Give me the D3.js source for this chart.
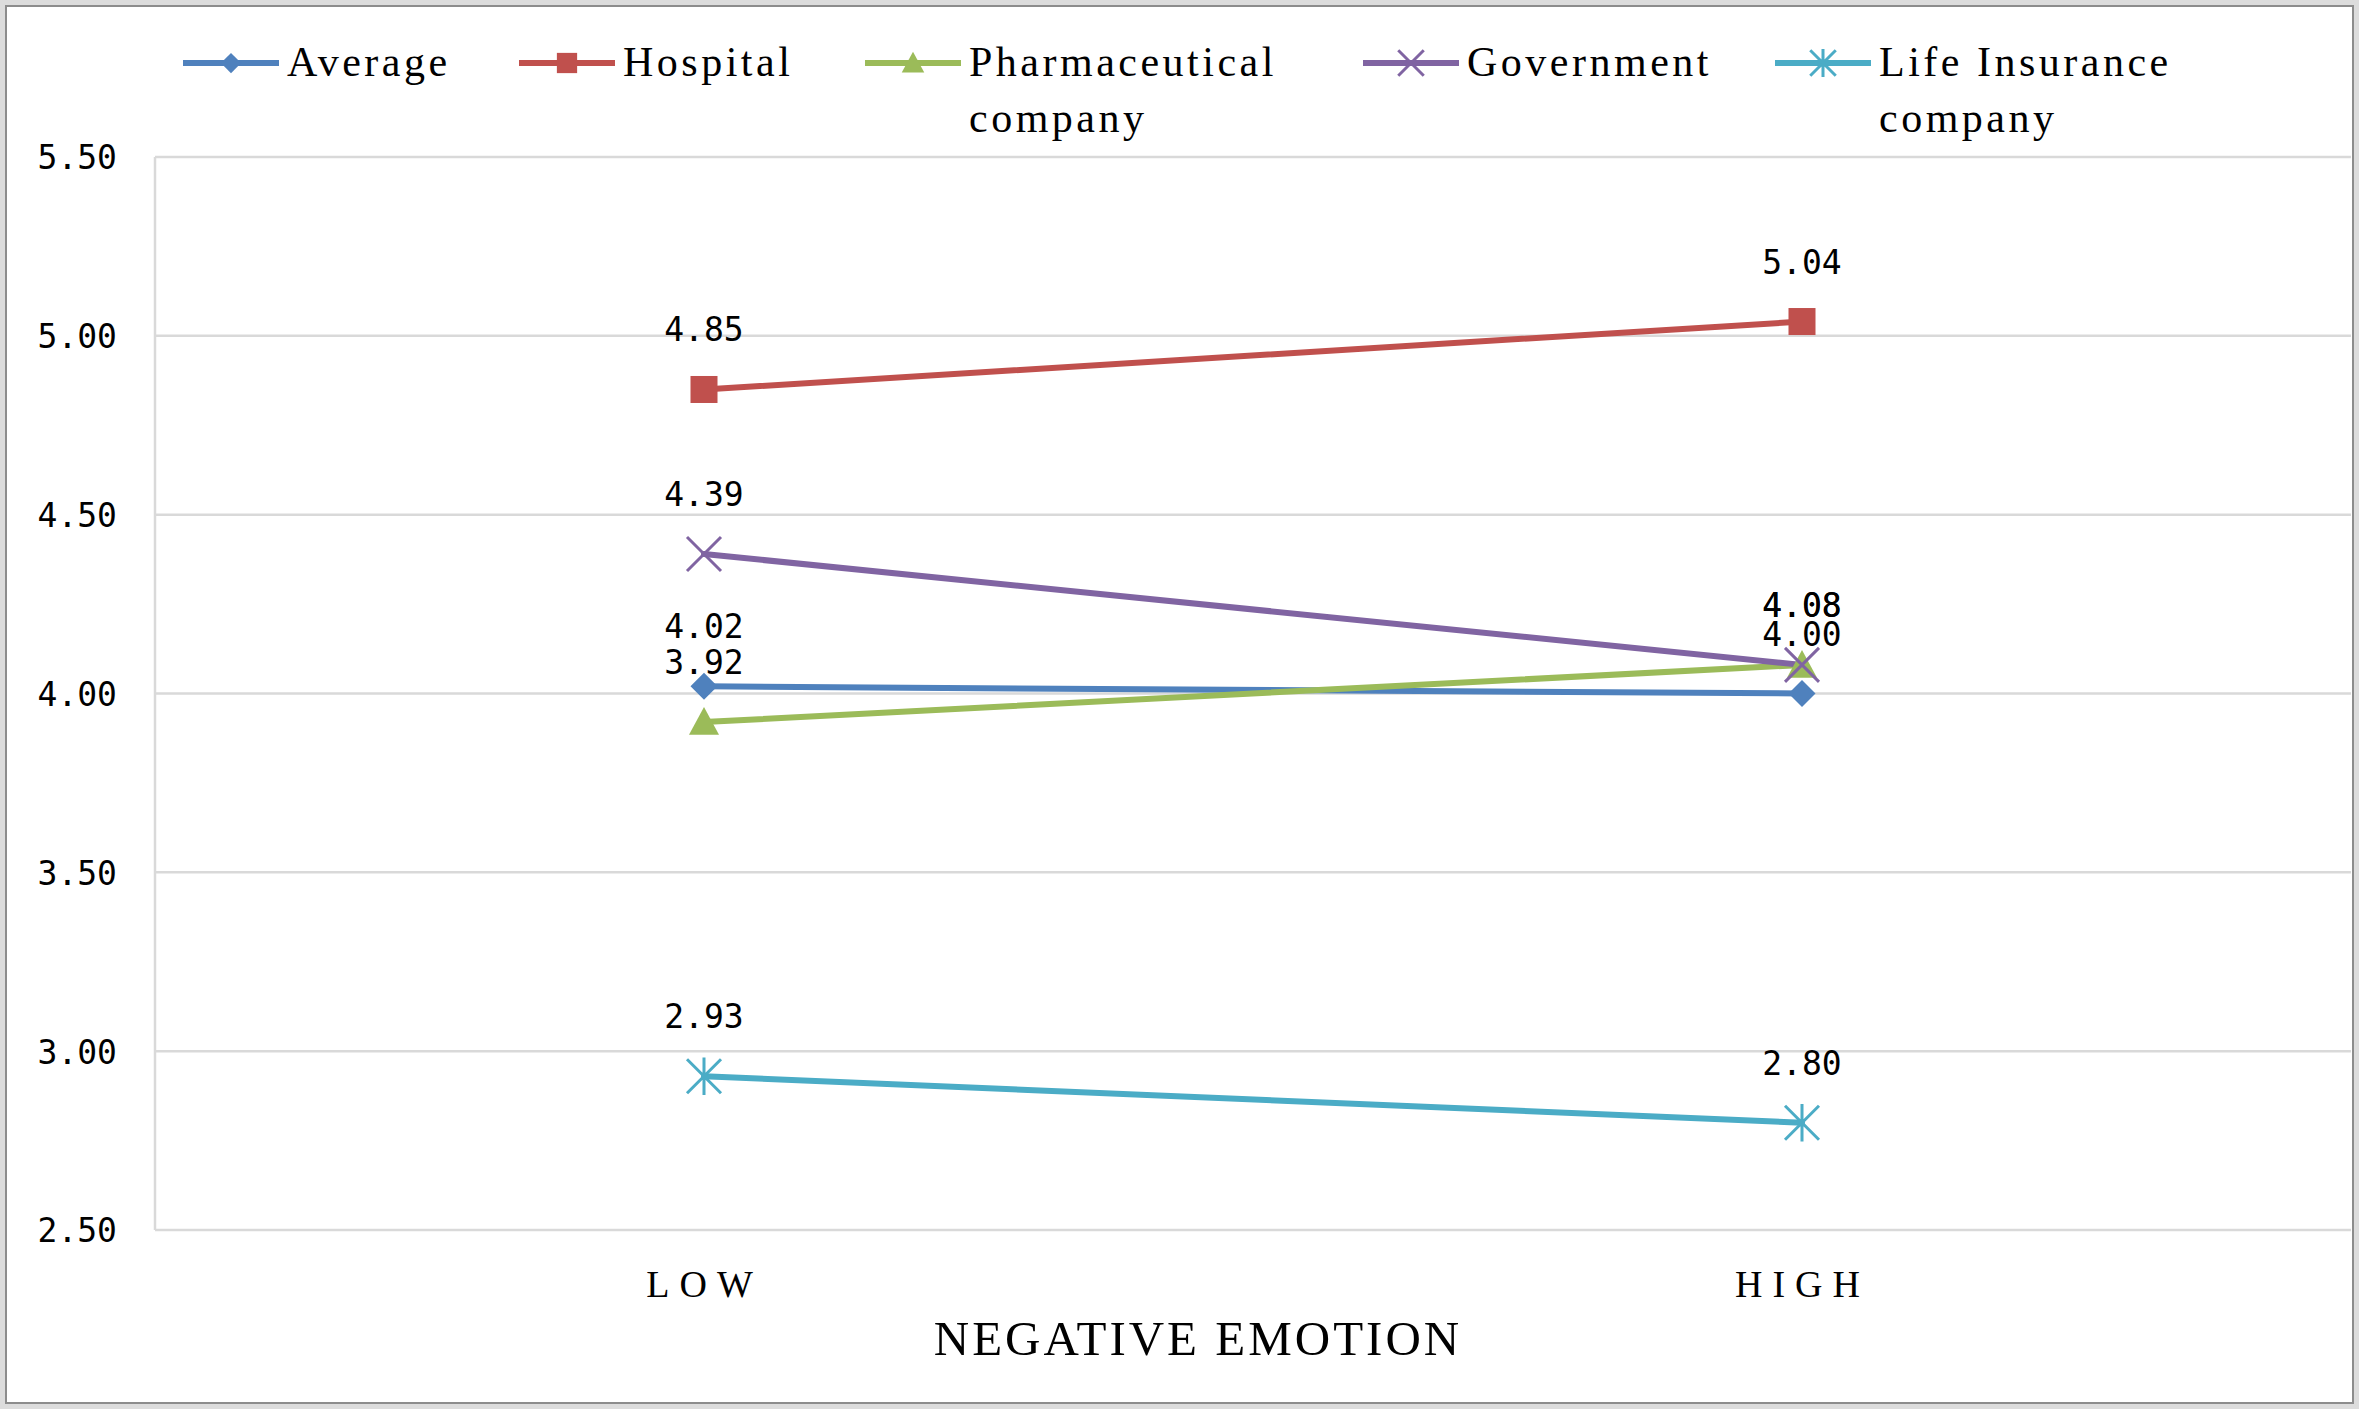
<!DOCTYPE html>
<html><head><meta charset="utf-8">
<script src="https://cdn.jsdelivr.net/npm/d3@7"></script>
<style>html,body{margin:0;padding:0;background:#fff;}svg{display:block;}</style>
</head><body>
<svg id="chart" width="2359" height="1409"></svg>
<script>
const categories = ["LOW", "HIGH"];
const seriesNames = ["Average", "Hospital", "Pharmaceutical company", "Government", "Life Insurance company"];
const legendLines = [["Average"], ["Hospital"], ["Pharmaceutical", "company"], ["Government"], ["Life Insurance", "company"]];
const averageValues = [4.02, 4.00];
const hospitalValues = [4.85, 5.04];
const pharmaValues = [3.92, 4.08];
const governmentValues = [4.39, 4.08];
const lifeInsuranceValues = [2.93, 2.80];
const yTicks = [2.5, 3.0, 3.5, 4.0, 4.5, 5.0, 5.5];
const xTitle = "NEGATIVE EMOTION";

const colors = ["#4F81BD", "#C0504D", "#9BBB59", "#8064A2", "#4BACC6"];
const markers = ["diamond", "square", "triangle", "x", "star"];
const seriesValues = [averageValues, hospitalValues, pharmaValues, governmentValues, lifeInsuranceValues];

const W = 2359, H = 1409;
const svg = d3.select("#chart");
const serif = "'Liberation Serif', 'DejaVu Serif', serif";
const mono = "'DejaVu Sans Mono', 'Liberation Mono', monospace";

// frame
svg.append("rect").attr("x", 0).attr("y", 0).attr("width", W).attr("height", H).attr("fill", "#dcdcdc");
svg.append("rect").attr("x", 6).attr("y", 6).attr("width", W - 12).attr("height", H - 12)
  .attr("fill", "#fff").attr("stroke", "#8c8c8c").attr("stroke-width", 2);

const plot = {left: 155, right: 2351, top: 157, bottom: 1230};
const x = d3.scalePoint().domain(categories).range([plot.left, plot.right]).padding(0.5);
const y = d3.scaleLinear().domain([2.5, 5.5]).range([plot.bottom, plot.top]);

// gridlines
svg.append("g").selectAll("line").data(yTicks).join("line")
  .attr("x1", plot.left).attr("x2", plot.right)
  .attr("y1", d => y(d)).attr("y2", d => y(d))
  .attr("stroke", "#d9d9d9").attr("stroke-width", 2.5);
// y axis line
svg.append("line").attr("x1", plot.left).attr("x2", plot.left)
  .attr("y1", plot.top).attr("y2", plot.bottom)
  .attr("stroke", "#d9d9d9").attr("stroke-width", 2.5);

// y axis labels via d3 axis
const yAxis = d3.axisLeft(y).tickValues(yTicks).tickFormat(d3.format(".2f")).tickSize(0).tickPadding(38);
const yg = svg.append("g").attr("transform", `translate(${plot.left},0)`).call(yAxis);
yg.select(".domain").remove();
yg.selectAll("text").attr("font-family", mono).attr("font-size", 33).attr("fill", "#000")
  .attr("dy", "0.36em");

// x axis labels
const xAxis = d3.axisBottom(x).tickSize(0).tickPadding(40);
const xg = svg.append("g").attr("transform", `translate(0,${plot.bottom})`).call(xAxis);
xg.select(".domain").remove();
xg.selectAll("text").attr("font-family", serif).attr("font-size", 38).attr("fill", "#000")
  .attr("letter-spacing", 10).attr("dy", "0.71em");

svg.append("text").attr("x", 1198).attr("y", 1355).attr("text-anchor", "middle")
  .attr("font-family", serif).attr("font-size", 49).attr("letter-spacing", 3).attr("fill", "#000")
  .text(xTitle);

function drawMarker(g, type, cx, cy, color, scale) {
  const s = scale || 1;
  if (type === "diamond") {
    const r = 13.5 * s;
    g.append("path").attr("d", `M${cx},${cy - r}L${cx + r},${cy}L${cx},${cy + r}L${cx - r},${cy}Z`).attr("fill", color);
  } else if (type === "square") {
    const r = 13.5 * s;
    g.append("rect").attr("x", cx - r).attr("y", cy - r).attr("width", 2 * r).attr("height", 2 * r).attr("fill", color);
  } else if (type === "triangle") {
    const r = 15 * s;
    g.append("path").attr("d", `M${cx},${cy - r}L${cx + r},${cy + r * 0.85}L${cx - r},${cy + r * 0.85}Z`).attr("fill", color);
  } else if (type === "x") {
    const r = 17 * s;
    g.append("path").attr("d", `M${cx - r},${cy - r}L${cx + r},${cy + r}M${cx - r},${cy + r}L${cx + r},${cy - r}`)
      .attr("stroke", color).attr("stroke-width", 3).attr("fill", "none");
  } else if (type === "star") {
    const r = 17 * s;
    g.append("path").attr("d", `M${cx - r},${cy - r}L${cx + r},${cy + r}M${cx - r},${cy + r}L${cx + r},${cy - r}M${cx},${cy - r * 1.1}L${cx},${cy + r * 1.1}`)
      .attr("stroke", color).attr("stroke-width", 3).attr("fill", "none");
  }
}

const line = d3.line().x((d, i) => x(categories[i])).y(d => y(d));
const seriesG = svg.append("g");
seriesValues.forEach((vals, si) => {
  seriesG.append("path").datum(vals).attr("d", line)
    .attr("fill", "none").attr("stroke", colors[si]).attr("stroke-width", 6).attr("stroke-linecap", "round");
});
seriesValues.forEach((vals, si) => {
  vals.forEach((v, i) => drawMarker(seriesG, markers[si], x(categories[i]), y(v), colors[si]));
});
// data labels
const labelG = svg.append("g");
seriesValues.forEach((vals, si) => {
  vals.forEach((v, i) => {
    labelG.append("text").attr("x", x(categories[i])).attr("y", y(v) - 48)
      .attr("text-anchor", "middle").attr("font-family", mono).attr("font-size", 33)
      .attr("fill", "#000").text(d3.format(".2f")(v));
  });
});

// legend
const legendX = [183, 519, 865, 1363, 1775];
const legendY = 63;
const lg = svg.append("g");
legendLines.forEach((lines, si) => {
  const lx = legendX[si];
  lg.append("line").attr("x1", lx).attr("x2", lx + 96).attr("y1", legendY).attr("y2", legendY)
    .attr("stroke", colors[si]).attr("stroke-width", 6);
  drawMarker(lg, markers[si], lx + 48, legendY, colors[si], 0.75);
  const t = lg.append("text").attr("x", lx + 104).attr("y", legendY + 13)
    .attr("font-family", serif).attr("font-size", 42).attr("letter-spacing", 3.5).attr("fill", "#000");
  lines.forEach((ln, k) => {
    t.append("tspan").attr("x", lx + 104).attr("dy", k === 0 ? 0 : 56).text(ln);
  });
});
</script>
</body></html>
